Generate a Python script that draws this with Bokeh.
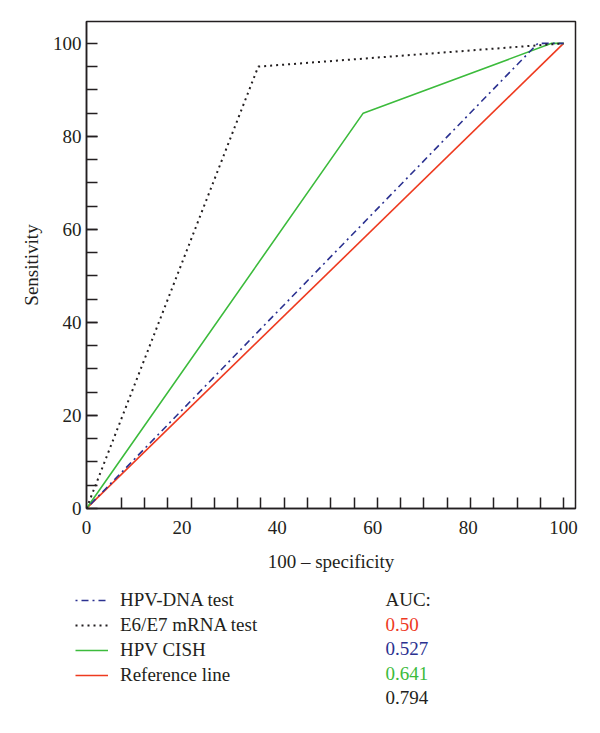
import numpy as np
from bokeh.plotting import figure
from bokeh.layouts import column
from bokeh.models import Range1d, FixedTicker, Legend, LegendItem, Label
from bokeh.embed import file_html
from bokeh.resources import INLINE

# ---- data ----
dna_fpr = [0, 94.6, 100]
dna_sens = [0, 100, 100]
mrna_fpr = [0, 36, 100]
mrna_sens = [0, 95, 100]
cish_fpr = [0, 58, 97.5, 100]
cish_sens = [0, 85, 100, 100]
ref_fpr = [0, 100]
ref_sens = [0, 100]
series_names = ["HPV-DNA test", "E6/E7 mRNA test", "HPV CISH", "Reference line"]
auc_title = "AUC:"
auc_values = ["0.50", "0.527", "0.641", "0.794"]
x_major = [0, 20, 40, 60, 80, 100]
y_major = [0, 20, 40, 60, 80, 100]
y_minor = list(range(5, 100, 5))
x_minor = list(np.linspace(7.3, 100, 20))

RED = "#ee3a1f"
BLUE = "#2b3190"
GREEN = "#3cbb3c"
INK = "#231f20"
FONT = "Liberation Serif"
FS = "19px"

X_MAX, Y_MAX = 102.5, 104.7
W, H = 592, 585
BL, BR, BT, BB = 86, 17, 21, 77

p = figure(width=W, height=H, x_range=Range1d(0, X_MAX), y_range=Range1d(0, Y_MAX),
           output_backend="svg", toolbar_location=None,
           min_border_left=BL, min_border_right=BR, min_border_top=BT, min_border_bottom=BB,
           background_fill_color="white", border_fill_color="white")
p.grid.visible = False
p.outline_line_color = INK
p.outline_line_width = 1.5

for ax in (p.xaxis[0], p.yaxis[0]):
    ax.axis_line_color = INK
    ax.axis_line_width = 1.5
    ax.major_tick_line_color = INK
    ax.major_tick_line_width = 1.5
    ax.minor_tick_line_color = INK
    ax.minor_tick_line_width = 1.5
    ax.major_tick_out = 0
    ax.minor_tick_out = 0
    ax.minor_tick_in = 11
    ax.major_label_text_font = FONT
    ax.major_label_text_font_size = FS
    ax.major_label_text_color = INK
    ax.axis_label_text_font = FONT
    ax.axis_label_text_font_size = FS
    ax.axis_label_text_font_style = "normal"
    ax.axis_label_text_color = INK

xa = p.xaxis[0]
xa.ticker = FixedTicker(ticks=x_major, minor_ticks=x_minor)
xa.major_tick_in = 0
xa.major_label_standoff = 12
xa.axis_label = "100 – specificity"
xa.axis_label_standoff = 14

ya = p.yaxis[0]
ya.ticker = FixedTicker(ticks=y_major, minor_ticks=y_minor)
ya.major_tick_in = 11
ya.major_label_standoff = 5
ya.axis_label = "Sensitivity"
ya.axis_label_standoff = 8

p.line(ref_fpr, ref_sens, line_color=RED, line_width=1.6)
p.line(cish_fpr, cish_sens, line_color=GREEN, line_width=1.6)
p.line(dna_fpr, dna_sens, line_color=BLUE, line_width=1.6, line_dash="2 4 7 4")
p.line(mrna_fpr, mrna_sens, line_color=INK, line_width=2, line_dash="2 4")

# ---- key panel below the chart ----
H2 = 140
p2 = figure(width=W, height=H2, x_range=Range1d(0, W), y_range=Range1d(0, H2),
            output_backend="svg", toolbar_location=None, x_axis_type=None, y_axis_type=None,
            min_border_left=0, min_border_right=0, min_border_top=0, min_border_bottom=0,
            background_fill_color="white", border_fill_color="white", frame_align=False)
p2.grid.visible = False
p2.outline_line_color = None

nan = [np.nan]
k_dna = p2.line(nan, nan, line_color=BLUE, line_width=1.6, line_dash="2 4 7 4")
k_mrna = p2.line(nan, nan, line_color=INK, line_width=2, line_dash="2 4")
k_cish = p2.line(nan, nan, line_color=GREEN, line_width=1.6)
k_ref = p2.line(nan, nan, line_color=RED, line_width=1.6)

legend = Legend(
    items=[LegendItem(label=n, renderers=[r]) for n, r in zip(series_names, [k_dna, k_mrna, k_cish, k_ref])],
    location=(75, 38), orientation="vertical",
    glyph_width=33, glyph_height=24, label_height=24, label_standoff=12, spacing=1,
    padding=0, margin=0, border_line_alpha=0, background_fill_alpha=0,
    label_text_font=FONT, label_text_font_size=FS, label_text_color=INK,
)
p2.add_layout(legend)

auc_colors = [INK, RED, BLUE, GREEN, INK]
for i, (txt, col) in enumerate(zip([auc_title] + auc_values, auc_colors)):
    p2.add_layout(Label(x=385, y=H2 - (599 + 24.6 * i - H), text=txt, text_color=col,
                        text_font=FONT, text_font_size=FS, text_baseline="middle", text_align="left"))

layout = column(p, p2, spacing=0)
open("out.html", "w").write(file_html(layout, INLINE))
